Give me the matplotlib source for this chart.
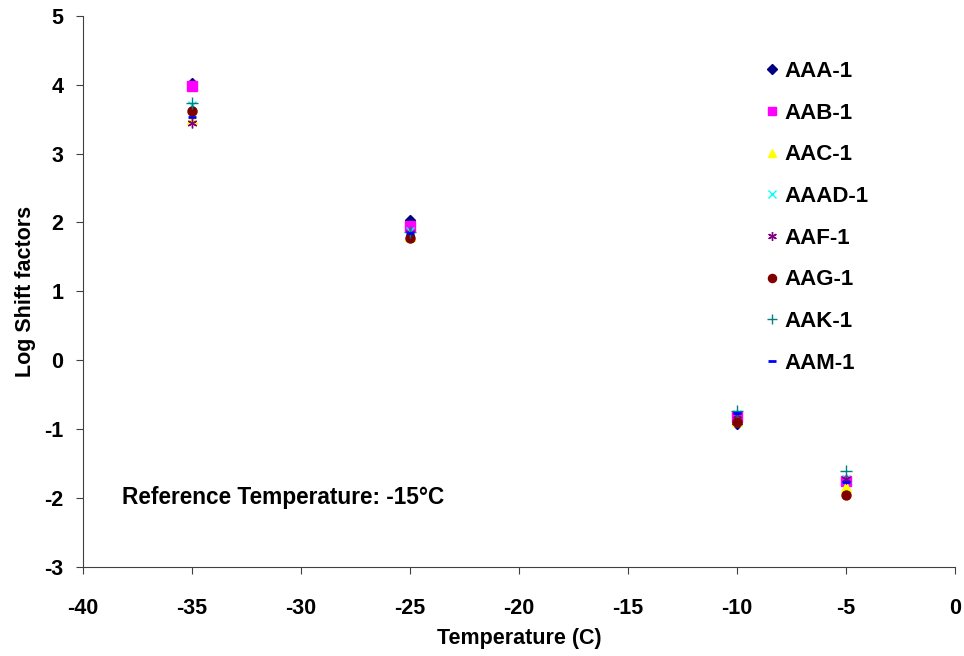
import matplotlib
matplotlib.use("Agg")
import matplotlib.pyplot as plt

plt.rcParams['font.family'] = ['Liberation Sans', 'DejaVu Sans']
plt.rcParams['axes.unicode_minus'] = False

temps = [-35, -25, -10, -5]
AAA = [4.02, 2.04, -0.92, -1.75]
AAB = [3.98, 1.95, -0.82, -1.75]
AAC = [3.50, 1.80, -0.88, -1.84]
AAD = [3.70, 1.88, -0.78, -1.72]
AAF = [3.44, 1.84, -0.80, -1.73]
AAG = [3.62, 1.77, -0.90, -1.95]
AAK = [3.73, 1.86, -0.74, -1.60]
AAM = [3.53, 1.85, -0.76, -1.76]

series = [
    ("AAA-1", AAA, dict(marker='D', color='#000080', ms=5.5, ls='none')),
    ("AAB-1", AAB, dict(marker='s', color='#FF00FF', ms=6.5, ls='none')),
    ("AAC-1", AAC, dict(marker='^', color='#FFFF00', ms=6.5, ls='none')),
    ("AAAD-1", AAD, dict(marker='x', color='#00FFFF', ms=6, mew=1, ls='none')),
    ("AAF-1", AAF, dict(marker=(6, 2, 0), color='#800080', ms=7, mew=1, ls='none')),
    ("AAG-1", AAG, dict(marker='o', color='#800000', ms=6.5, ls='none')),
    ("AAK-1", AAK, dict(marker='+', color='#008080', ms=8, mew=1, ls='none')),
    ("AAM-1", AAM, dict(marker='_', color='#0000FF', ms=6, mew=2, ls='none')),
]

fig = plt.figure(figsize=(9.64, 6.56), dpi=100)
ax = fig.add_axes([0.086, 0.1357, 0.9047, 0.8403])

for name, vals, style in series:
    ax.plot(temps, vals, label=name, **style)

ax.set_xlim(-40, 0)
ax.set_ylim(-3, 5)
ax.set_xticks(range(-40, 1, 5))
ax.set_yticks(range(-3, 6, 1))
for s in ['top', 'right']:
    ax.spines[s].set_visible(False)
ax.spines['left'].set_color('#404040')
ax.spines['bottom'].set_color('#404040')
ax.tick_params(direction='out', length=5, color='#404040', labelsize=15.5)
ax.tick_params(axis='x', pad=17)
ax.tick_params(axis='y', pad=9)
for lab in ax.get_xticklabels() + ax.get_yticklabels():
    lab.set_fontweight('bold')

ax.set_xlabel('Temperature (C)', fontsize=15.5, fontweight='bold', labelpad=7)
ax.set_ylabel('Log Shift factors', fontsize=15.5, fontweight='bold', labelpad=6)

ax.text(-38.2, -1.99, 'Reference Temperature: -15°C', fontsize=16.3,
        fontweight='bold', va='center', ha='left')

leg = ax.legend(loc='upper left', bbox_to_anchor=(0.761, 0.954), frameon=False,
                prop=dict(size=16, weight='bold'), labelspacing=0.93,
                handlelength=0.5, handletextpad=0.3, numpoints=1,
                markerscale=0.9)

fig.savefig('out.png', dpi=100)
